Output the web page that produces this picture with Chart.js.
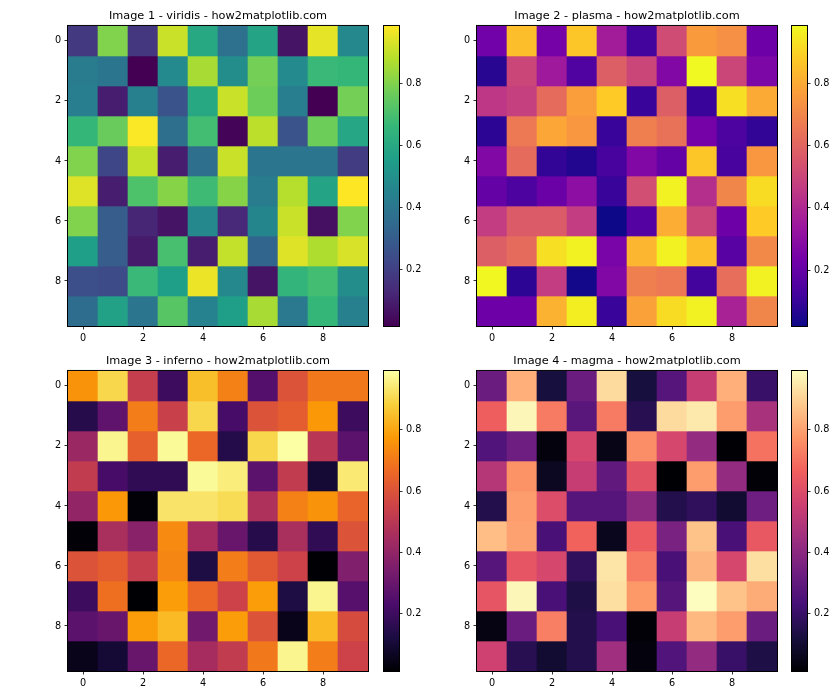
<!DOCTYPE html>
<html>
<head>
<meta charset="utf-8">
<script src="https://cdn.jsdelivr.net/npm/chart.js@4.4.1/dist/chart.umd.min.js"></script>
<style>
  html, body { margin: 0; padding: 0; background: #fff; }
  body { width: 840px; height: 700px; position: relative; overflow: hidden; }
  canvas { position: absolute; }
</style>
</head>
<body>
<canvas id="h1" width="380" height="350" style="left:0px;top:0px"></canvas>
<canvas id="c1" width="60" height="350" style="left:380px;top:0px"></canvas>
<canvas id="h2" width="390" height="350" style="left:400px;top:0px"></canvas>
<canvas id="c2" width="52" height="350" style="left:788px;top:0px"></canvas>
<canvas id="h3" width="380" height="350" style="left:0px;top:345px"></canvas>
<canvas id="c3" width="60" height="350" style="left:380px;top:345px"></canvas>
<canvas id="h4" width="390" height="350" style="left:400px;top:345px"></canvas>
<canvas id="c4" width="52" height="350" style="left:788px;top:345px"></canvas>
<script>
// ---------------- data ----------------
const columnLabels = ['0','1','2','3','4','5','6','7','8','9'];
const rowIndex = [0,1,2,3,4,5,6,7,8,9];
const axisTicks = [0, 2, 4, 6, 8];
const colorbarTicks = [0.2, 0.4, 0.6, 0.8];
const titles = [
  'Image 1 - viridis - how2matplotlib.com',
  'Image 2 - plasma - how2matplotlib.com',
  'Image 3 - inferno - how2matplotlib.com',
  'Image 4 - magma - how2matplotlib.com'
];

const viridisData = [
  [0.18, 0.80, 0.17, 0.91, 0.60, 0.38, 0.58, 0.07, 0.95, 0.47],
  [0.42, 0.40, 0.019, 0.48, 0.86, 0.49, 0.78, 0.48, 0.67, 0.66],
  [0.43, 0.10, 0.44, 0.27, 0.60, 0.91, 0.77, 0.43, 0.02, 0.78],
  [0.66, 0.76, 0.98, 0.37, 0.69, 0.03, 0.89, 0.27, 0.77, 0.59],
  [0.80, 0.22, 0.90, 0.10, 0.37, 0.91, 0.40, 0.40, 0.40, 0.19],
  [0.94, 0.10, 0.71, 0.81, 0.68, 0.81, 0.42, 0.88, 0.58, 0.985],
  [0.80, 0.30, 0.12, 0.07, 0.47, 0.13, 0.46, 0.91, 0.06, 0.80],
  [0.56, 0.30, 0.09, 0.70, 0.10, 0.90, 0.33, 0.94, 0.87, 0.93],
  [0.25, 0.24, 0.67, 0.56, 0.96, 0.47, 0.07, 0.65, 0.69, 0.49],
  [0.36, 0.57, 0.40, 0.73, 0.45, 0.56, 0.86, 0.41, 0.66, 0.44]
];
const plasmaData = [
  [0.23, 0.85, 0.24, 0.87, 0.36, 0.12, 0.52, 0.76, 0.73, 0.22],
  [0.07, 0.50, 0.35, 0.15, 0.58, 0.50, 0.27, 0.985, 0.50, 0.26],
  [0.45, 0.48, 0.62, 0.77, 0.88, 0.10, 0.58, 0.10, 0.93, 0.80],
  [0.08, 0.66, 0.79, 0.75, 0.10, 0.68, 0.64, 0.24, 0.14, 0.09],
  [0.27, 0.62, 0.09, 0.06, 0.13, 0.27, 0.20, 0.87, 0.13, 0.75],
  [0.20, 0.14, 0.21, 0.30, 0.10, 0.53, 0.97, 0.42, 0.70, 0.92],
  [0.47, 0.57, 0.57, 0.47, 0.02, 0.16, 0.81, 0.50, 0.22, 0.88],
  [0.58, 0.62, 0.93, 0.97, 0.25, 0.83, 0.97, 0.85, 0.17, 0.71],
  [0.98, 0.08, 0.47, 0.03, 0.27, 0.68, 0.66, 0.12, 0.63, 0.97],
  [0.22, 0.22, 0.82, 0.96, 0.10, 0.78, 0.92, 0.97, 0.38, 0.70]
];
const infernoData = [
  [0.76, 0.90, 0.53, 0.20, 0.85, 0.72, 0.25, 0.60, 0.70, 0.70],
  [0.15, 0.28, 0.71, 0.54, 0.90, 0.22, 0.60, 0.63, 0.77, 0.20],
  [0.42, 0.97, 0.64, 0.98, 0.66, 0.14, 0.90, 0.992, 0.50, 0.27],
  [0.52, 0.22, 0.17, 0.17, 0.98, 0.95, 0.27, 0.52, 0.10, 0.94],
  [0.40, 0.77, 0.02, 0.93, 0.93, 0.91, 0.47, 0.72, 0.76, 0.65],
  [0.02, 0.46, 0.38, 0.74, 0.45, 0.30, 0.15, 0.46, 0.17, 0.60],
  [0.60, 0.63, 0.53, 0.73, 0.13, 0.71, 0.62, 0.55, 0.015, 0.36],
  [0.20, 0.68, 0.014, 0.78, 0.66, 0.55, 0.78, 0.13, 0.97, 0.26],
  [0.27, 0.30, 0.78, 0.84, 0.32, 0.78, 0.60, 0.05, 0.84, 0.58],
  [0.05, 0.10, 0.30, 0.66, 0.45, 0.52, 0.70, 0.97, 0.71, 0.55]
];
const magmaData = [
  [0.32, 0.83, 0.12, 0.32, 0.92, 0.12, 0.27, 0.54, 0.83, 0.20],
  [0.66, 0.98, 0.72, 0.28, 0.72, 0.16, 0.92, 0.95, 0.79, 0.47],
  [0.26, 0.33, 0.03, 0.58, 0.05, 0.76, 0.58, 0.42, 0.015, 0.70],
  [0.50, 0.77, 0.07, 0.54, 0.30, 0.62, 0.014, 0.79, 0.42, 0.02],
  [0.15, 0.79, 0.60, 0.27, 0.27, 0.40, 0.15, 0.18, 0.10, 0.33],
  [0.86, 0.80, 0.24, 0.67, 0.06, 0.65, 0.36, 0.87, 0.24, 0.64],
  [0.27, 0.63, 0.58, 0.18, 0.94, 0.72, 0.24, 0.84, 0.58, 0.93],
  [0.63, 0.98, 0.24, 0.14, 0.93, 0.78, 0.27, 0.992, 0.87, 0.82],
  [0.04, 0.32, 0.73, 0.15, 0.24, 0.02, 0.54, 0.85, 0.79, 0.32],
  [0.56, 0.16, 0.10, 0.15, 0.45, 0.03, 0.26, 0.42, 0.20, 0.14]
];

// colormap stops (evenly spaced from 0 to 1)
const viridisStops = ['#440154','#482878','#3e4a89','#31688e','#26828e','#1f9e89','#35b779','#6dcd59','#b4de2c','#fde725'];
const plasmaStops  = ['#0d0887','#47039f','#7301a8','#9c179e','#bd3786','#d8576b','#ed7953','#fa9e3b','#fdc926','#f0f921'];
const infernoStops = ['#000004','#1b0c42','#4b0c6b','#781c6d','#a52c60','#cf4446','#ed6925','#fb9a06','#f7d03c','#fcffa4'];
const magmaStops   = ['#000004','#180f3e','#451077','#721f81','#9f2f7f','#cd4071','#f1605d','#fd9567','#fec98d','#fcfdbf'];

// ---------------- helpers ----------------
function hexToRgb(h) { return [parseInt(h.slice(1,3),16), parseInt(h.slice(3,5),16), parseInt(h.slice(5,7),16)]; }
function makeCmap(stops) {
  const rgb = stops.map(hexToRgb);
  return function(t) {
    t = Math.max(0, Math.min(1, t));
    const p = t * (rgb.length - 1);
    const i = Math.min(Math.floor(p), rgb.length - 2);
    const f = p - i;
    const c = rgb[i].map((v, k) => Math.round(v + (rgb[i+1][k] - v) * f));
    return 'rgb(' + c.join(',') + ')';
  };
}

const FONT = "'DejaVu Sans', 'Liberation Sans', sans-serif";
const TITLE_SIZE = 11.3;
const TICK_SIZE = 9.7;

const framePlugin = {
  id: 'frame',
  afterDraw(chart) {
    const a = chart.chartArea, ctx = chart.ctx;
    ctx.save();
    ctx.strokeStyle = '#000';
    ctx.lineWidth = 1;
    ctx.strokeRect(a.left - 0.5, a.top - 0.5, a.right - a.left + 1, a.bottom - a.top + 1);
    ctx.restore();
  }
};

function heatmap(id, title, data, stops, yWidth, padRight) {
  const cmap = makeCmap(stops);
  const flat = data.flat();
  const vmin = Math.min(...flat), vmax = Math.max(...flat);
  const datasets = data.map((row, r) => ({
    data: row.map(() => [rowIndex[r] - 0.5, rowIndex[r] + 0.5]),
    backgroundColor: row.map(v => cmap((v - vmin) / (vmax - vmin))),
    borderWidth: 0,
    grouped: false,
    categoryPercentage: 1,
    barPercentage: 1
  }));
  new Chart(document.getElementById(id), {
    type: 'bar',
    data: { labels: columnLabels, datasets },
    options: {
      responsive: false,
      animation: false,
      devicePixelRatio: 1,
      layout: { padding: { left: 0, right: padRight, top: 0, bottom: 0 } },
      plugins: {
        legend: { display: false },
        tooltip: { enabled: false },
        title: {
          display: true, text: title, fullSize: false,
          color: '#000', font: { family: FONT, size: TITLE_SIZE, weight: 'normal', lineHeight: 1.2 },
          padding: { top: 9.2, bottom: 3.2 }
        }
      },
      scales: {
        x: {
          type: 'category',
          offset: true,
          grid: { display: true, drawOnChartArea: false, drawTicks: true, tickLength: 3.5, color: '#000', lineWidth: 0.8, offset: false },
          border: { display: false },
          ticks: { color: '#000', font: { family: FONT, size: TICK_SIZE }, padding: 3.4, maxRotation: 0, autoSkip: false },
          afterBuildTicks: s => { s.ticks = axisTicks.map(v => ({ value: v })); },
          afterFit: s => { s.height = 24; }
        },
        y: {
          type: 'linear',
          reverse: true,
          min: rowIndex[0] - 0.5,
          max: rowIndex[rowIndex.length - 1] + 0.5,
          grid: { display: true, drawOnChartArea: false, drawTicks: true, tickLength: 3.5, color: '#000', lineWidth: 0.8 },
          border: { display: false },
          ticks: { color: '#000', font: { family: FONT, size: TICK_SIZE }, padding: 3.4 },
          afterBuildTicks: s => { s.ticks = axisTicks.map(v => ({ value: v })); },
          afterFit: s => { s.width = yWidth; }
        }
      }
    },
    plugins: [framePlugin]
  });
}

function colorbar(id, data, stops, yWidth) {
  const flat = data.flat();
  const vmin = Math.min(...flat), vmax = Math.max(...flat);
  new Chart(document.getElementById(id), {
    type: 'bar',
    data: {
      labels: ['cb'],
      datasets: [{
        data: [[vmin, vmax]],
        backgroundColor: ctx => {
          const a = ctx.chart.chartArea;
          if (!a) return stops[0];
          const g = ctx.chart.ctx.createLinearGradient(0, a.bottom, 0, a.top);
          stops.forEach((c, i) => g.addColorStop(i / (stops.length - 1), c));
          return g;
        },
        borderWidth: 0,
        categoryPercentage: 1,
        barPercentage: 1
      }]
    },
    options: {
      responsive: false,
      animation: false,
      devicePixelRatio: 1,
      layout: { padding: { left: 4, right: 0, top: 26, bottom: 24 } },
      plugins: { legend: { display: false }, tooltip: { enabled: false } },
      scales: {
        x: { display: false, offset: true },
        y: {
          type: 'linear',
          position: 'right',
          min: vmin, max: vmax,
          grid: { display: true, drawOnChartArea: false, drawTicks: true, tickLength: 3.5, color: '#000', lineWidth: 0.8 },
          border: { display: false },
          ticks: { color: '#000', font: { family: FONT, size: TICK_SIZE }, padding: 3.4, callback: v => v.toFixed(1) },
          afterBuildTicks: s => { s.ticks = colorbarTicks.map(v => ({ value: v })); },
          afterFit: s => { s.width = yWidth; }
        }
      }
    },
    plugins: [framePlugin]
  });
}

heatmap('h1', titles[0], viridisData, viridisStops, 68, 12);
colorbar('c1', viridisData, viridisStops, 41);
heatmap('h2', titles[1], plasmaData, plasmaStops, 77, 13);
colorbar('c2', plasmaData, plasmaStops, 33);
heatmap('h3', titles[2], infernoData, infernoStops, 68, 12);
colorbar('c3', infernoData, infernoStops, 41);
heatmap('h4', titles[3], magmaData, magmaStops, 77, 13);
colorbar('c4', magmaData, magmaStops, 33);
</script>
</body>
</html>
